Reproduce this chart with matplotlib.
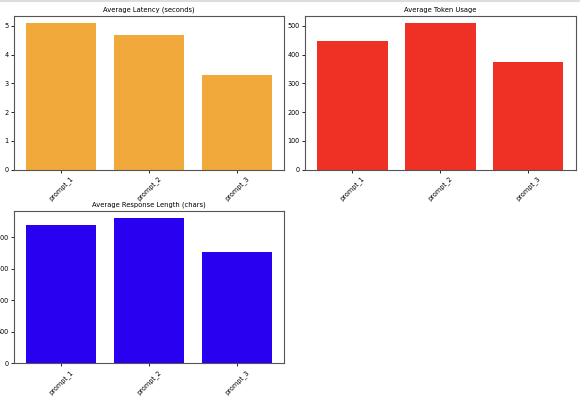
import matplotlib
matplotlib.use('Agg')
import matplotlib.pyplot as plt

# prompt names and averaged metrics
prompts = ['prompt_1', 'prompt_2', 'prompt_3']
latency = [5.09, 4.70, 3.31]
tokens = [446, 509, 374]
resp_len = [2199, 2305, 1773]

fig = plt.figure(figsize=(5.8, 3.98), dpi=100)

# axes placed by hand, the left labels are cut off in the reference
ax1 = fig.add_axes([0.0241, 0.5736, 0.4655, 0.3862])
ax2 = fig.add_axes([0.5259, 0.5736, 0.4667, 0.3862])
ax3 = fig.add_axes([0.0241, 0.0872, 0.4655, 0.3834])

panels = [
    (ax1, latency, '#f2a93b', 'Average Latency (seconds)'),
    (ax2, tokens, '#ee3124', 'Average Token Usage'),
    (ax3, resp_len, '#2a00f0', 'Average Response Length (chars)'),
]

for ax, vals, col, title in panels:
    ax.bar(prompts, vals, color=col)
    ax.set_title(title, fontsize=4.9, pad=3)
    ax.tick_params(axis='both', labelsize=4.7, length=2, width=0.6, pad=2)
    ax.set_xticks(range(len(prompts)))
    ax.set_xticklabels(prompts, rotation=45)
    for s in ax.spines.values():
        s.set_linewidth(0.8)
        s.set_color('#555555')

ax3.set_yticks([0, 500, 1000, 1500, 2000])

# thin grey line along the top like the original crop
fig.add_artist(plt.Line2D([0, 1], [0.997, 0.997], color='#dddddd', lw=1.5))

plt.savefig('out.png', dpi=100)
